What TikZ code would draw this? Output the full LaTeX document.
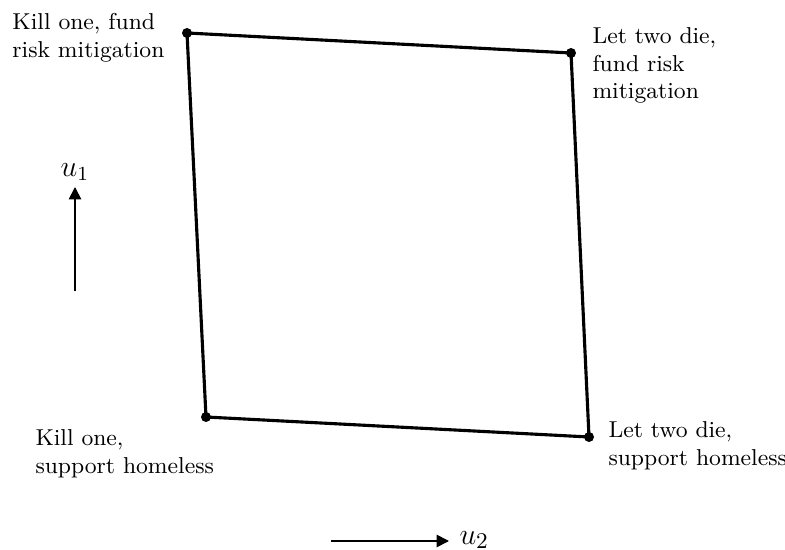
\documentclass[tikz,border=0pt]{standalone}
\usetikzlibrary{arrows.meta}
\begin{document}
\begin{tikzpicture}[x=0.4pt,y=-0.4pt,
  edge/.style={line width=1.25pt},
  dot/.style={circle,fill=black,inner sep=0pt,minimum size=4pt},
  lbl/.style={inner sep=0pt,align=left,font=\fontsize{9.2}{11.1}\selectfont},
  axis/.style={line width=0.7pt,-{Triangle[length=5pt,width=5pt]}}]
\useasboundingbox (0,0) rectangle (785,550);
\node[dot] (tl) at (187,33) {};
\node[dot] (tr) at (571,53) {};
\node[dot] (bl) at (206,417) {};
\node[dot] (br) at (589,437) {};
\draw[edge] (tl.center) -- (tr.center) -- (br.center) -- (bl.center) -- cycle;
\node[lbl,anchor=north west] (ttl) at (12,13) {Kill one, fund\\risk mitigation};
\node[lbl,anchor=north west] (ttr) at (592,27) {Let two die,\\fund risk\\mitigation};
\node[lbl,anchor=north west] (tbl) at (35,429) {Kill one,\\support homeless};
\node[lbl,anchor=north west] (tbr) at (608,421) {Let two die,\\support homeless};
\coordinate (a1s) at (75,291);
\coordinate (a1e) at (75,187);
\draw[axis] (a1s) -- (a1e);
\node[font=\fontsize{11.5}{14}\selectfont,inner sep=0pt] (u1) at (75,172) {$u_1$};
\coordinate (a2s) at (331,541);
\coordinate (a2e) at (449,541);
\draw[axis] (a2s) -- (a2e);
\node[font=\fontsize{12.5}{15}\selectfont,inner sep=0pt,anchor=west] (u2) at (459,540) {$u_2$};
\end{tikzpicture}
\end{document}
